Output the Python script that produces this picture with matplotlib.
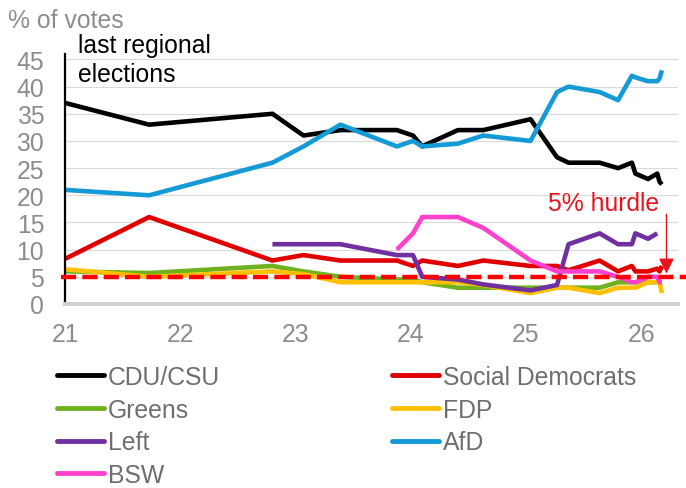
import matplotlib
matplotlib.use('Agg')
import matplotlib.pyplot as plt
from matplotlib.lines import Line2D
import numpy as np

plt.rcParams['font.family'] = ['Liberation Sans', 'DejaVu Sans']

nan = np.nan

# poll dates as decimal years (21 = 2021)
dates = [21.0, 21.73, 22.8, 23.07, 23.39, 23.88, 24.02, 24.1, 24.41, 24.63, 25.04,
         25.27, 25.37, 25.64, 25.8, 25.92, 25.95, 26.06, 26.14, 26.16, 26.18]

cdu = [37, 33, 35, 31, 32, 32, 31, 29, 32, 32, 34, 27, 26, 26, 25, 26, 24, 23, 24, 22.5, 22]
spd = [8.3, 16, 8, 9, 8, 8, 7, 8, 7, 8, 7, 7, 6.2, 8, 6, 7, 6, 6, 6.5, 6, 7]
greens = [6, 5.7, 7, 6, 5, 4.5, 4.5, 4, 3, 3, 3, 3, 3, 3, 4, 4, 4, 4, 4, 4, 4]
fdp = [6.4, 5, 6, 5.5, 4, 4, 4, 4, 4, 3.5, 2, 3, 3, 2, 3, 3, 3, 4, 4, 4, 2]
left = [nan, nan, 11, 11, 11, 9, 9, 5, 4.5, 3.6, 2.5, 3.5, 11, 13, 11, 11, 13, 12, 13, nan, nan]
afd = [21, 20, 26, 29, 33, 29, 30, 29, 29.5, 31, 30, 39, 40, 39, 37.5, 42, 41.7, 41, 41, 41.5, 43]
bsw = [nan, nan, nan, nan, nan, 10, 13, 16, 16, 14, 8, 6, 6, 6, 5, 4, 4, 5, 5, 4, 4]

parties = ['CDU/CSU', 'Social Democrats', 'Greens', 'FDP', 'Left', 'AfD', 'BSW']
series = [cdu, spd, greens, fdp, left, afd, bsw]
colors = ['#000000', '#e00000', '#6fb21e', '#ffc000', '#7030a0', '#149ad6', '#ff40cc']

hurdle = 5
year_ticks = [21, 22, 23, 24, 25, 26]
fs = 17.8

fig = plt.figure(figsize=(6.86, 4.89), dpi=100)
ax = fig.add_axes([65/686, 1 - 305/489, 613/686, 250/489])

for vals, c in zip(series, colors):
    ax.plot(dates, vals, color=c, lw=3.3, solid_joinstyle='round', solid_capstyle='butt')

# 5% hurdle
ax.axhline(hurdle, xmin=-0.006, xmax=1.02, color='#ff0000', lw=3.2,
           linestyle=(0, (3.4, 1.4)), clip_on=False, zorder=5)
ax.text(25.67, 17.3, '5% hurdle', color='#e8141c', fontsize=fs, ha='center', va='baseline')
ax.annotate('', xy=(26.22, 5.6), xytext=(26.22, 16.5),
            arrowprops=dict(arrowstyle='-|>', color='#e8141c', lw=1,
                            mutation_scale=23, shrinkA=0, shrinkB=0), zorder=6)

ax.set_xlim(21.0, 26.32)
ax.set_ylim(0, 46)
ax.set_yticks(range(0, 50, 5))
ax.set_xticks(year_ticks)
ax.set_xticklabels([str(y) for y in year_ticks])
ax.grid(axis='y', color='#d9d9d9', lw=0.8)
ax.set_axisbelow(True)
ax.tick_params(length=0, labelsize=fs, labelcolor='#8c8c8c')
ax.tick_params(axis='y', pad=15)
ax.tick_params(axis='x', pad=13)
for s in ['top', 'right']:
    ax.spines[s].set_visible(False)
ax.spines['left'].set_color('black')
ax.spines['left'].set_linewidth(1.6)
ax.spines['bottom'].set_color('#d0d0d0')
ax.spines['bottom'].set_linewidth(3)

fig.text(8/686, 1 - 28/489, '% of votes', color='#8c8c8c', fontsize=fs, va='baseline')
fig.text(78/686, 1 - 53/489, 'last regional', color='black', fontsize=fs, va='baseline')
fig.text(78/686, 1 - 82/489, 'elections', color='black', fontsize=fs, va='baseline')

# legend in two columns, row-wise order
handles = [Line2D([], [], color=c, lw=3.5, solid_capstyle='round') for c in colors]
col1 = [0, 2, 4, 6]
col2 = [1, 3, 5]
for idx, x0 in [(col1, 57), (col2, 392)]:
    leg = fig.legend([handles[i] for i in idx], [parties[i] for i in idx],
                     loc='upper left', bbox_to_anchor=(x0/686, 1 - 366/489),
                     frameon=False, fontsize=fs, handlelength=1.9, handletextpad=0.15,
                     labelspacing=0.35, borderpad=0, borderaxespad=0)
    for t in leg.get_texts():
        t.set_color('#6e6e6e')

fig.savefig('out.png', dpi=100)
